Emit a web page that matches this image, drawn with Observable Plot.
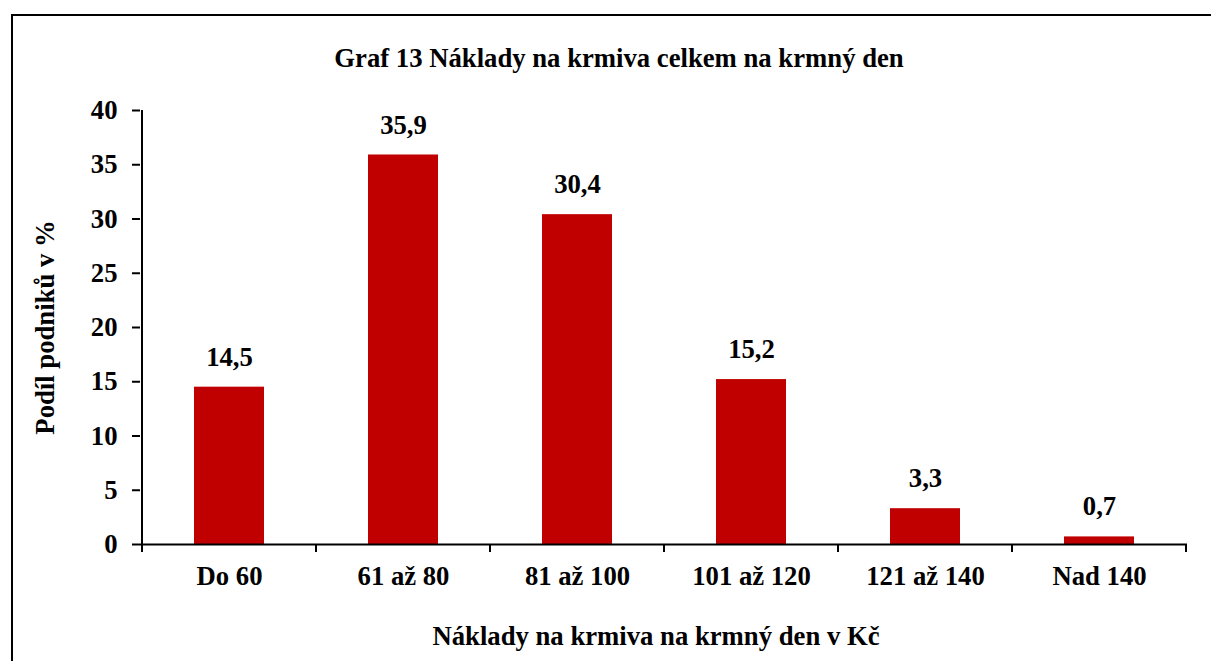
<!DOCTYPE html>
<html><head><meta charset="utf-8">
<script src="https://cdn.jsdelivr.net/npm/d3@7"></script>
<script src="https://cdn.jsdelivr.net/npm/@observablehq/plot@0.6"></script>
<style>
body{margin:0;background:#fff;}
#wrap{position:relative;width:1211px;height:661px;overflow:hidden;background:#fff;}
#border{position:absolute;left:11px;top:14px;width:1400px;height:900px;border:2px solid #000;box-sizing:border-box;pointer-events:none;}
#chart{position:absolute;left:0;top:0;}
#chart svg, #chart svg text{font-family:"Liberation Serif","Times New Roman",Times,serif !important;font-weight:bold !important;}
</style></head><body><div id="wrap"><div id="chart"></div><div id="border"></div></div>
<script>
const categories = ["Do 60", "61 až 80", "81 až 100", "101 až 120", "121 až 140", "Nad 140"];
const values = [14.5, 35.9, 30.4, 15.2, 3.3, 0.7];
const yTicks = [0, 5, 10, 15, 20, 25, 30, 35, 40];
const title = "Graf 13 Náklady na krmiva celkem na krmný den";
const xLabel = "Náklady na krmiva na krmný den v Kč";
const yLabel = "Podíl podniků v %";

const data = categories.map((c, i) => ({
  category: c,
  value: values[i],
  label: values[i].toFixed(1).replace(".", ",")
}));

const W = 1211, H = 661;
const plot = Plot.plot({
  width: W,
  height: H,
  marginLeft: 140,
  marginRight: 24,
  marginTop: 110,
  marginBottom: 117,
  style: {fontSize: "26.7px", color: "#000", background: "transparent"},
  x: {domain: categories, paddingInner: 0.6, paddingOuter: 0.3, axis: null},
  y: {domain: [0, 40], axis: null},
  marks: [
    Plot.barY(data, {x: "category", y: "value", fill: "#C00000"}),
    Plot.ruleY([0], {stroke: "#000", strokeWidth: 2}),
    Plot.axisX({tickSize: 0, tickPadding: 22, label: null, fill: "#000"}),
    Plot.axisY({ticks: yTicks, tickSize: 8, tickPadding: 15, tickFormat: d => String(d), label: null, strokeWidth: 2, stroke: "#000", fill: "#000"}),
    Plot.text(data, {x: "category", y: "value", text: "label", lineAnchor: "middle", dy: -30, fill: "#000"}),
    Plot.text([title], {frameAnchor: "top", lineAnchor: "middle", textAnchor: "middle", dy: -52, dx: -45, fill: "#000"}),
    Plot.text([xLabel], {frameAnchor: "bottom", lineAnchor: "middle", textAnchor: "middle", dy: 92, dx: -8, fill: "#000"}),
    Plot.text([yLabel], {frameAnchor: "left", lineAnchor: "middle", textAnchor: "middle", rotate: -90, dx: -95, fill: "#000"})
  ]
});

// axis line and category-boundary ticks, derived from the plot's scales
const sx = plot.scale("x"), sy = plot.scale("y");
const gap = (sx.step - sx.bandwidth) / 2;
const bounds = categories.map(c => sx.apply(c) - gap);
bounds.push(sx.apply(categories[categories.length - 1]) + sx.bandwidth + gap);
const y0 = sy.apply(0), yTop = sy.apply(40);
const svg = d3.select(plot);
const g = svg.append("g").attr("stroke", "#000").attr("stroke-width", 2);
g.append("line").attr("x1", bounds[0]).attr("x2", bounds[0]).attr("y1", yTop).attr("y2", y0 + 8);
bounds.forEach(b => g.append("line").attr("x1", b).attr("x2", b).attr("y1", y0).attr("y2", y0 + 8));

document.getElementById("chart").appendChild(plot);
</script>
</body></html>
